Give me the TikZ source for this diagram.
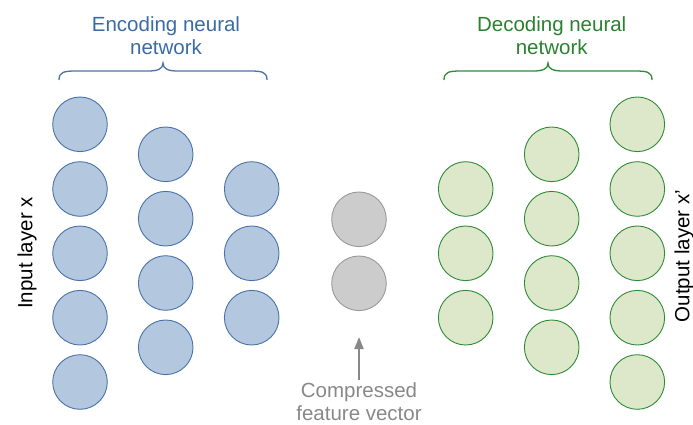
\documentclass[tikz,border=0pt]{standalone}
\usepackage{fontspec}
\setmainfont{Liberation Sans}
\usetikzlibrary{arrows.meta}
\definecolor{encfill}{HTML}{B3C7DE}
\definecolor{encline}{HTML}{4A72AA}
\definecolor{enctext}{HTML}{3A6BA5}
\definecolor{decfill}{HTML}{DDE8CB}
\definecolor{decline}{HTML}{2E8B35}
\definecolor{dectext}{HTML}{2A812F}
\definecolor{midfill}{HTML}{CCCCCC}
\definecolor{midline}{HTML}{999999}
\definecolor{graytext}{HTML}{888888}
\tikzset{
  neuron/.style={circle, minimum size=54.6pt, inner sep=0pt, line width=0.9pt},
  encn/.style={neuron, draw=encline, fill=encfill},
  decn/.style={neuron, draw=decline, fill=decfill},
  midn/.style={neuron, draw=midline, fill=midfill},
  lbl/.style={font=\fontsize{20.5}{23}\selectfont, align=center, inner sep=0pt},
  bracepath/.style={line width=1.3pt}
}
\begin{document}
\begin{tikzpicture}[x=1pt,y=-1pt]
\useasboundingbox (0,0) rectangle (693,425);
% encoder
\foreach \i/\y in {1/124.3,2/189,3/253.3,4/317.7,5/382}
  \node[encn] (e1\i) at (80,\y) {};
\foreach \i/\y in {1/154.3,2/218.7,3/283,4/347.3}
  \node[encn] (e2\i) at (165.7,\y) {};
\foreach \i/\y in {1/189,2/253.3,3/317.7}
  \node[encn] (e3\i) at (251.7,\y) {};
% middle
\node[midn] (m1) at (359,219.3) {};
\node[midn] (m2) at (359,283.3) {};
% decoder
\foreach \i/\y in {1/189,2/253.3,3/317.7}
  \node[decn] (d1\i) at (465.7,\y) {};
\foreach \i/\y in {1/154.3,2/218.7,3/283,4/347.3}
  \node[decn] (d2\i) at (551.7,\y) {};
\foreach \i/\y in {1/124.3,2/189,3/253.3,4/317.7,5/382}
  \node[decn] (d3\i) at (637.3,\y) {};
% labels
\node[lbl, text=enctext] (enclbl) at (166,36) {Encoding neural\\network};
\node[lbl, text=dectext] (declbl) at (551.7,36) {Decoding neural\\network};
\node[lbl, rotate=90] (inlbl) at (27,253) {Input layer x};
\node[lbl, rotate=90] (outlbl) at (684,256) {Output layer x'};
\node[lbl, text=graytext, anchor=north] (clbl) at (359,382) {Compressed\\feature vector};
% braces
\draw[bracepath, draw=encline] (59,80) .. controls (59,72) and (64,71) .. (76,71) -- (148,71)
  .. controls (158,71) and (163,69) .. (163,63) .. controls (163,69) and (168,71) .. (178,71)
  -- (250,71) .. controls (262,71) and (267,72) .. (267,80);
\draw[bracepath, draw=decline] (444,80) .. controls (444,72) and (449,71) .. (461,71) -- (533,71)
  .. controls (543,71) and (548,69) .. (548,63) .. controls (548,69) and (553,71) .. (563,71)
  -- (635,71) .. controls (647,71) and (652,72) .. (652,80);
% arrow
\coordinate (arrtip) at (359,337);
\draw[draw=graytext, line width=1.8pt, -{Triangle[width=9pt,length=12pt]}] (clbl.north) ++(0,-2) coordinate (arrstart) (arrstart) -- (arrtip);
\end{tikzpicture}
\end{document}
